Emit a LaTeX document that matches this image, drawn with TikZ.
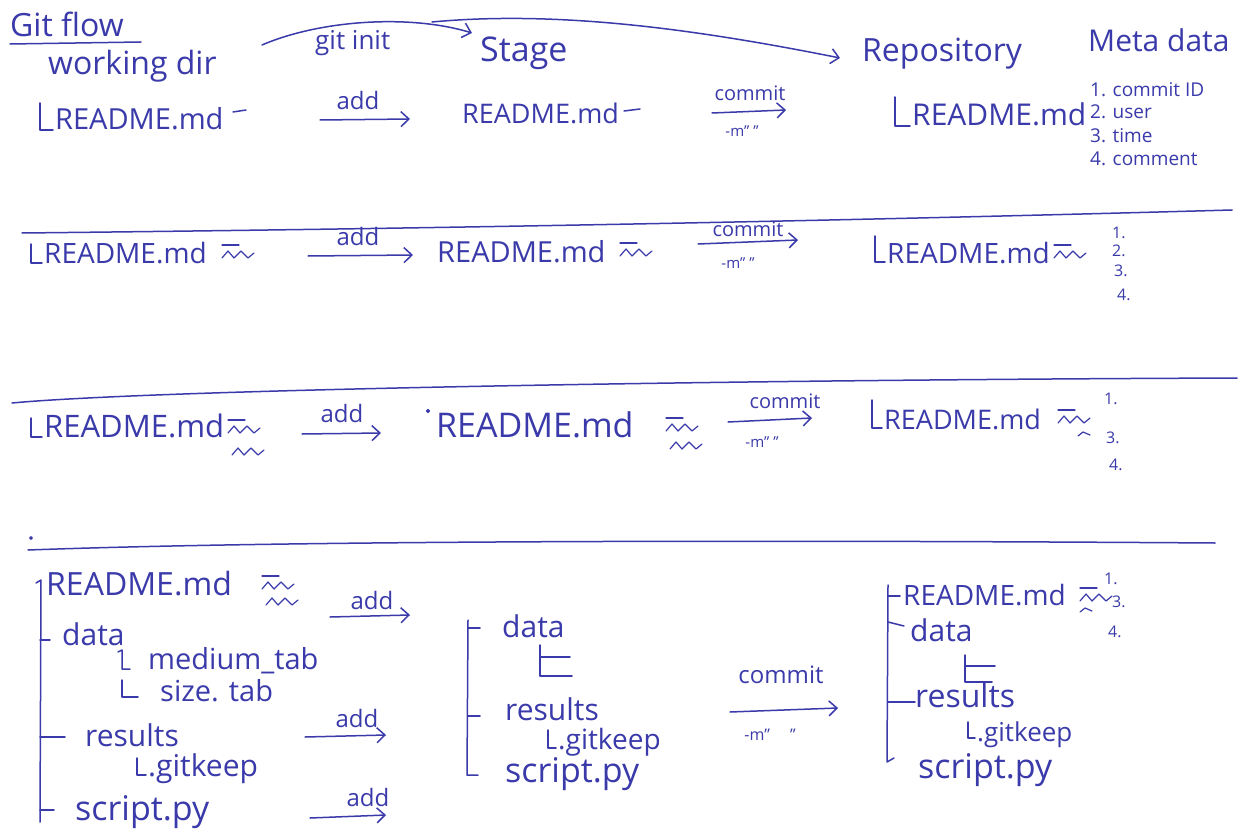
\documentclass[tikz,border=0pt]{standalone}
\usepackage{fontspec}
\setmainfont{Open Sans}
\usetikzlibrary{arrows.meta}
\definecolor{ink}{RGB}{58,58,170}
\tikzset{
  pics/editbar/.style={code={\draw[ink,line width=1.2pt] (0,-10) -- (17,-10);}},
  pics/editwave/.style={code={\draw[ink,line width=1.2pt] (0,3) -- (6,-4) -- (12,3) -- (19,-4) -- (26,3) -- (32,-2);}},
}
\begin{document}
\begin{tikzpicture}[x=1pt,y=-1pt,
  ink/.style={draw=ink,line width=1.5pt,line cap=round,line join=round},
  flow/.style={ink,-{Straight Barb[length=8pt,width=15pt,line width=1.5pt]}},
  txt/.style={text=ink,inner sep=0pt,anchor=base west},
  lab/.style={text=ink,inner sep=0pt,anchor=center},
  fs/.style={font=\fontsize{#1}{#1}\selectfont},
]
\useasboundingbox[fill=white] (0,0) rectangle (1246,834);

% ---------- headings ----------
\node[txt,fs=32] (title) at (10,37) {Git flow};
\draw[ink] (10,44) -- (141,42);
\node[txt,fs=32] (wd) at (48,75) {working dir};
\node[txt,fs=26] (gitinit) at (315,50) {git init};
\node[txt,fs=34] (stage) at (480,62) {Stage};
\node[txt,fs=32] (repo) at (862,62) {Repository};
\node[txt,fs=30] (meta) at (1088,52) {Meta data};
\coordinate (wdE) at (262,45);
\coordinate (stW) at (472,33);
\coordinate (stN) at (432,22);
\coordinate (rpW) at (840,58);
\draw[flow] (wdE) .. controls (320,20) and (410,14) .. (stW);
\draw[flow] (stN) .. controls (560,10) and (700,30) .. (rpW);

% ---------- row 1 ----------
\draw[ink] (40,103) -- (40,130) -- (53,130);
\node[txt,fs=29] (wd1) at (55,130) {README.md};
\draw[ink] (233,112) -- (246,110);
\coordinate (a1s) at (320,120); \coordinate (a1e) at (410,119);
\draw[flow] (a1s) -- (a1e);
\node[lab,fs=24] (add1) at (358,101) {add};
\node[txt,fs=27] (st1) at (462,124) {README.md};
\draw[ink] (624,111) -- (640,109);
\coordinate (c1s) at (712,113); \coordinate (c1e) at (786,110);
\draw[flow] (c1s) -- (c1e);
\node[lab,fs=20] (com1) at (750,93) {commit};
\node[lab,fs=15] (msg1) at (742,131) {-m" "};
\draw[ink] (895,97) -- (895,126) -- (910,126);
\node[txt,fs=30] (rp1) at (912,126) {README.md};
\node[txt,fs=19] (m1) at (1090,97) {1. commit ID};
\node[txt,fs=19] (m2) at (1090,119) {2. user};
\node[txt,fs=19] (m3) at (1090,143) {3. time};
\node[txt,fs=19] (m4) at (1090,166) {4. comment};

\draw[ink] (22,233) .. controls (400,229) and (800,222) .. (1232,210);

% ---------- row 2 ----------
\draw[ink] (31,244) -- (31,263) -- (42,263);
\node[txt,fs=28] (wd2) at (44,263) {README.md};
\pic at (222,255) {editbar}; \pic at (222,255) {editwave};
\coordinate (a2s) at (308,256); \coordinate (a2e) at (413,255);
\draw[flow] (a2s) -- (a2e);
\node[lab,fs=24] (add2) at (358,236) {add};
\node[txt,fs=29] (st2) at (437,262) {README.md};
\pic at (620,253) {editbar}; \pic at (620,253) {editwave};
\coordinate (c2s) at (698,244); \coordinate (c2e) at (798,240);
\draw[flow] (c2s) -- (c2e);
\node[lab,fs=20] (com2) at (748,229) {commit};
\node[lab,fs=15] (msg2) at (738,263) {-m" "};
\draw[ink] (875,236) -- (875,262) -- (885,262);
\node[txt,fs=28] (rp2) at (887,263) {README.md};
\pic at (1054,255) {editbar}; \pic at (1054,255) {editwave};
\node[txt,fs=16] (n21) at (1112,238) {1.};
\node[txt,fs=16] (n22) at (1112,256) {2.};
\node[txt,fs=16] (n23) at (1114,276) {3.};
\node[txt,fs=16] (n24) at (1117,300) {4.};

\draw[ink] (12,403) .. controls (150,390) and (700,380) .. (1237,378);

% ---------- row 3 ----------
\draw[ink] (31,418) -- (31,437) -- (42,437);
\node[txt,fs=31] (wd3) at (44,437) {README.md};
\pic at (228,430) {editbar}; \pic at (228,430) {editwave}; \pic at (232,452) {editwave};
\coordinate (a3s) at (302,434); \coordinate (a3e) at (381,433);
\draw[flow] (a3s) -- (a3e);
\node[lab,fs=24] (add3) at (342,413) {add};
\fill[ink] (428,411) circle (1.3pt);
\node[txt,fs=34] (st3) at (436,437) {README.md};
\pic at (666,428) {editbar}; \pic at (666,428) {editwave}; \pic at (670,446) {editwave};
\coordinate (c3s) at (728,422); \coordinate (c3e) at (812,418);
\draw[flow] (c3s) -- (c3e);
\node[lab,fs=20] (com3) at (785,401) {commit};
\node[lab,fs=15] (msg3) at (762,442) {-m" "};
\draw[ink] (872,400) -- (872,428) -- (882,428);
\node[txt,fs=27] (rp3) at (884,429) {README.md};
\pic at (1058,420) {editbar}; \pic at (1058,420) {editwave};
\draw[ink,line width=1.2pt] (1078,436) -- (1083,432) -- (1090,435);
\node[txt,fs=16] (n31) at (1104,404) {1.};
\node[txt,fs=16] (n33) at (1106,443) {3.};
\node[txt,fs=16] (n34) at (1109,470) {4.};

\draw[ink] (28,550) .. controls (300,540) and (800,540) .. (1215,543);
\fill[ink] (31,538) circle (1.2pt);

% ---------- row 4: working dir tree ----------
\draw[ink] (36,583) -- (41,580) -- (40,822);
\node[txt,fs=32] (wd4) at (46,595) {README.md};
\pic at (262,586) {editbar}; \pic at (262,586) {editwave}; \pic at (266,602) {editwave};
\draw[ink] (40,640) -- (50,640);
\node[txt,fs=30] (data4) at (62,645) {data};
\draw[ink] (118,652) -- (122,650) -- (122,669) -- (130,669);
\node[txt,fs=29] (medium) at (148,669) {medium\_tab};
\draw[ink] (122,680) -- (122,697) -- (138,697);
\node[txt,fs=29] (size) at (160,701) {size. tab};
\draw[ink] (40,737) -- (65,737);
\node[txt,fs=30] (res4) at (85,746) {results};
\draw[ink] (137,758) -- (137,775) -- (146,775);
\node[txt,fs=30] (gk4) at (148,776) {.gitkeep};
\draw[ink] (40,810) -- (54,810);
\node[txt,fs=34] (scr4) at (75,820) {script.py};
\coordinate (b1s) at (330,617); \coordinate (b1e) at (410,615);
\draw[flow] (b1s) -- (b1e);
\node[lab,fs=24] (addb1) at (372,600) {add};
\coordinate (b2s) at (305,737); \coordinate (b2e) at (386,735);
\draw[flow] (b2s) -- (b2e);
\node[lab,fs=24] (addb2) at (357,718) {add};
\coordinate (b3s) at (310,818); \coordinate (b3e) at (386,815);
\draw[flow] (b3s) -- (b3e);
\node[lab,fs=24] (addb3) at (368,797) {add};

% ---------- row 4: stage tree ----------
\draw[ink] (468,620) -- (467,775) -- (478,775);
\draw[ink] (468,628) -- (480,628);
\node[txt,fs=30] (data5) at (502,637) {data};
\draw[ink] (540,645) -- (540,676) -- (572,676);
\draw[ink] (540,657) -- (570,657);
\draw[ink] (468,716) -- (480,716);
\node[txt,fs=30] (res5) at (505,720) {results};
\draw[ink] (548,730) -- (548,748) -- (556,748);
\node[txt,fs=28] (gk5) at (558,749) {.gitkeep};
\node[txt,fs=34] (scr5) at (505,782) {script.py};

% commit of the tree
\coordinate (c4s) at (730,712); \coordinate (c4e) at (838,708);
\draw[flow] (c4s) -- (c4e);
\node[lab,fs=24] (com4) at (781,675) {commit};
\node[lab,fs=16] (msg4) at (770,735) {-m" \quad "};

% ---------- row 4: repository tree ----------
\draw[ink] (888,585) -- (887,762) -- (894,758);
\draw[ink] (888,596) -- (900,596);
\node[txt,fs=28] (rp4) at (903,605) {README.md};
\pic at (1080,598) {editbar}; \pic at (1080,598) {editwave};
\draw[ink,line width=1.2pt] (1080,612) -- (1085,608) -- (1092,611);
\node[txt,fs=16] (n41) at (1104,584) {1.};
\node[txt,fs=16] (n43) at (1112,607) {3.};
\node[txt,fs=16] (n44) at (1108,637) {4.};
\draw[ink] (888,622) -- (904,626);
\node[txt,fs=30] (data6) at (910,641) {data};
\draw[ink] (965,655) -- (965,682) -- (992,682);
\draw[ink] (965,666) -- (995,666);
\draw[ink] (888,702) -- (915,702);
\node[txt,fs=32] (res6) at (915,707) {results};
\draw[ink] (968,722) -- (968,738) -- (975,738);
\node[txt,fs=26] (gk6) at (977,741) {.gitkeep};
\node[txt,fs=34] (scr6) at (918,778) {script.py};
\end{tikzpicture}
\end{document}
